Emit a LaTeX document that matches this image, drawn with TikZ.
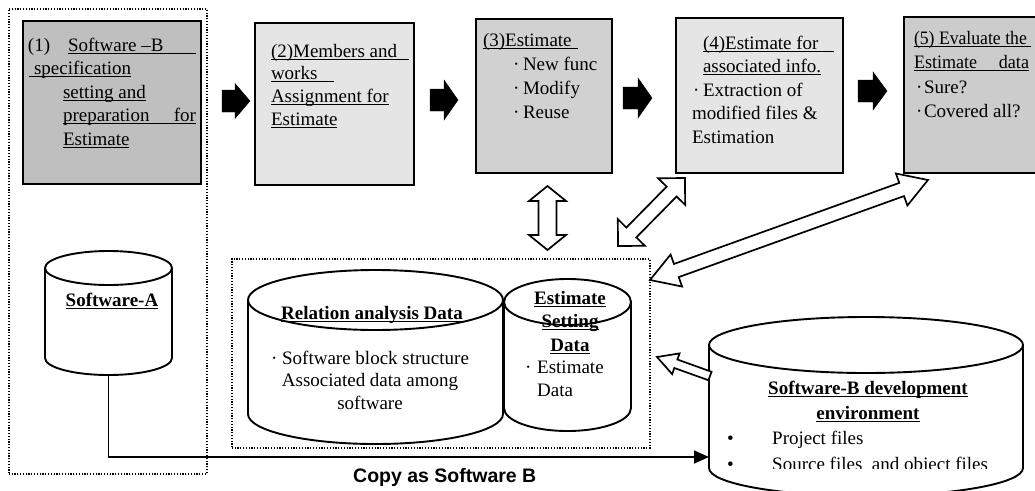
\documentclass[tikz,border=0pt]{standalone}
\usepackage{fontspec}
\setmainfont{Liberation Serif}
\setsansfont{Liberation Sans}
\usetikzlibrary{calc,arrows.meta}

\newcommand\myul[1]{\makebox[0pt][l]{\rule[-2.6pt]{#1pt}{0.9pt}}}
\newcommand\myult[1]{\setbox0=\hbox{#1}\makebox[0pt][l]{\rule[-2.6pt]{\wd0}{0.9pt}}\box0}
\newcommand\putat[2]{\makebox[0pt][l]{\hspace*{#1pt}#2}}

\newcommand\getvec[2]{%
  \path let \p1=(#1), \p2=(#2) in \pgfextra{%
    \pgfmathsetmacro\tmpA{atan2((\y2)-(\y1),(\x2)-(\x1))}%
    \pgfmathsetmacro\tmpL{veclen((\x2)-(\x1),(\y2)-(\y1))}%
    \xdef\vA{\tmpA}\xdef\vL{\tmpL}\xdef\vX{\x1}\xdef\vY{\y1}};}
% single-headed arrow shape: [style]{from}{to}{shaft half width}{head length}{head half width}
\newcommand\sarrow[6][]{%
  \getvec{#2}{#3}%
  \pgfmathsetmacro\vM{\vL-#5}%
  \draw[#1, shift={(\vX,\vY)}, rotate=\vA] (0pt,#4pt) -- (\vM pt,#4pt) -- (\vM pt,#6pt) -- (\vL pt,0pt)
     -- (\vM pt,-#6pt) -- (\vM pt,-#4pt) -- (0pt,-#4pt) -- cycle;}
% double-headed arrow shape
\newcommand\darrow[6][]{%
  \getvec{#2}{#3}%
  \pgfmathsetmacro\vM{\vL-#5}%
  \draw[#1, shift={(\vX,\vY)}, rotate=\vA] (0pt,0pt) -- (#5pt,#6pt) -- (#5pt,#4pt) -- (\vM pt,#4pt) -- (\vM pt,#6pt)
     -- (\vL pt,0pt) -- (\vM pt,-#6pt) -- (\vM pt,-#4pt) -- (#5pt,-#4pt) -- (#5pt,-#6pt) -- cycle;}
% cylinder: name, cx, top-centre y, bottom-centre y, rx, ry
\newcommand\cyl[6]{%
  \node[inner sep=0pt, minimum width={2*#5*1pt}, minimum height={(#4-#3+2*#6)*1pt}, anchor=north] (#1) at (#2,{#3-#6}) {};
  \draw[cylline] (#2,#3) ellipse [x radius=#5pt, y radius=#6pt];
  \draw[cylline] ({#2-#5},#3) -- ({#2-#5},#4) arc[start angle=180, end angle=360, x radius=#5pt, y radius=#6pt] -- ({#2+#5},#3);}

\begin{document}
\begin{tikzpicture}[x=1pt,y=-1pt,
  stepbox/.style={draw, line width=2pt, inner sep=0pt, anchor=north west, font=\fontsize{19}{23.5}\selectfont},
  fat/.style={fill=black, draw=black, line width=0.4pt, line join=miter},
  hollow/.style={fill=white, draw=black, line width=1.7pt, line join=miter},
  dotbox/.style={draw, line width=1.6pt, dash pattern=on 1.2pt off 1.6pt, inner sep=0pt, anchor=north west},
  cylline/.style={line width=1.9pt},
  txt/.style={inner sep=0pt, anchor=base, font=\fontsize{19}{23.5}\selectfont},
]
\useasboundingbox (0,0) rectangle (1035,490);

% dotted groups
\node[dotbox, minimum width=198pt, minimum height=465pt] (grpA) at (8,8) {};
\node[dotbox, minimum width=418pt, minimum height=189pt] (grpB) at (231,258) {};

% step boxes
\node[stepbox, fill=black!25] (b1) at (22,20) {\parbox[c][163pt][t]{178pt}{\rule{0pt}{30pt}\putat{5}{(1)}\putat{45}{\myul{128}Software –B}\\
\putat{6}{\myul{102}}\putat{11}{specification}\\
\putat{40}{\myult{setting and}}\\
\putat{40}{\myul{133}preparation}\putat{173}{\llap{for}}\\
\putat{40}{\myult{Estimate}}}};

\node[stepbox, fill=black!10] (b2) at (254,22) {\parbox[c][162pt][t]{159pt}{\setlength\baselineskip{22.7pt}\rule{0pt}{34pt}\putat{16}{\myul{138}(2)Members and}\\
\putat{16}{\myul{63}works}\\
\putat{16}{\myul{118}Assignment for}\\
\putat{16}{\myult{Estimate}}}};

\node[stepbox, fill=black!18] (b3) at (475,18) {\parbox[c][154pt][t]{136pt}{\setlength\baselineskip{24pt}\rule{0pt}{27pt}\putat{7}{\myul{95}(3)Estimate}\\
\putat{37}{·}\putat{47}{New func}\\
\putat{37}{·}\putat{47}{Modify}\\
\putat{37}{·}\putat{47}{Reuse}}};

\node[stepbox, fill=black!10] (b4) at (675,17) {\parbox[c][155pt][t]{167pt}{\setlength\baselineskip{23.5pt}\rule{0pt}{31pt}\putat{27}{\myul{131}(4)Estimate for}\\
\putat{27}{\myult{associated info.}}\\
\putat{17}{·}\putat{27}{Extraction of}\\
\putat{16}{modified files \&}\\
\putat{16}{Estimation}}};

\node[stepbox, fill=black!20] (b5) at (903,16) {\parbox[c][156pt][t]{140pt}{\setlength\baselineskip{24.5pt}\rule{0pt}{27pt}\putat{10}{\myul{117}\scalebox{0.93}[1]{(5) Evaluate the}}\\
\putat{10}{\myul{115}\scalebox{0.95}[1]{Estimate}}\putat{125}{\llap{\scalebox{0.95}[1]{data}}}\\
\putat{12}{·}\putat{20}{Sure?}\\
\putat{12}{·}\putat{20}{Covered all?}}};

% black flow arrows
\coordinate (f1a) at (222,101); \coordinate (f1b) at (250,101);
\coordinate (f2a) at (430,100); \coordinate (f2b) at (458,100);
\coordinate (f3a) at (623,98);  \coordinate (f3b) at (652,98);
\coordinate (f4a) at (858,91);  \coordinate (f4b) at (887,91);
\sarrow[fat]{f1a}{f1b}{11}{15}{17.5}
\sarrow[fat]{f2a}{f2b}{11}{14}{20}
\sarrow[fat]{f3a}{f3b}{11}{14}{20}
\sarrow[fat]{f4a}{f4b}{11}{14}{19}

% cylinders
\cyl{swa}{108.5}{268}{358}{63.5}{17}
\cyl{rel}{375.5}{300}{414}{127.5}{30}
\cyl{esd}{567.5}{302}{408}{63.5}{23}
\cyl{swb}{866}{345}{468}{157}{28}

% cylinder texts
\node[txt, font=\fontsize{19}{23.5}\selectfont\bfseries] (swat) at (112,306) {\myult{Software-A}};
\node[txt, font=\fontsize{19}{23.5}\selectfont\bfseries] (relt) at (372,319) {\myult{Relation analysis Data}};
\node[txt] (relb) at (370,364) {\parbox[t]{250pt}{\centering\setlength\baselineskip{22.5pt}· Software block structure\\ Associated data among\\ software}};
\node[txt, font=\fontsize{19}{23.5}\selectfont\bfseries] (esdt) at (570,304) {\parbox[t]{120pt}{\centering\myult{Estimate}\\ \myult{Setting}\\ \myult{Data}}};
\node[txt, anchor=base west] (esdb) at (523,373) {\parbox[t]{100pt}{\putat{2}{·}\putat{14}{Estimate}\\ \putat{14}{Data}}};
\node[txt, font=\fontsize{19}{25}\selectfont\bfseries] (swbt) at (868,394) {\parbox[t]{300pt}{\centering\myult{Software-B development}\\ \myult{environment}}};
\begin{scope}
\clip (700,300) rectangle (1035,468);
\node[txt, anchor=base west] (swbb) at (727,444) {\parbox[t]{290pt}{\setlength\baselineskip{26pt}\putat{0}{•}\putat{45}{Project files}\\ \putat{0}{•}\putat{45}{Source files\ \ and object files}}};
\end{scope}

% copy connector
\coordinate (copyend) at (709,457);
\draw[line width=1.6pt, -{Triangle[length=15pt,width=13pt]}] (swa.south) |- (copyend);
\node[inner sep=0pt, anchor=base west, font=\sffamily\bfseries\fontsize{19.5}{23}\selectfont] (copy) at (353,482) {Copy as Software B};

% hollow arrows
\coordinate (va) at (547.5,186); \coordinate (vb) at (547.5,250);
\darrow[hollow]{va}{vb}{9}{15}{18.5}
\coordinate (da) at (618,246); \coordinate (db) at (685,178);
\darrow[hollow]{da}{db}{7}{19}{19}
\coordinate (la) at (650,280); \coordinate (lb) at (928,180);
\darrow[hollow]{la}{lb}{7}{28}{17}
\coordinate (sa) at (710,376); \coordinate (sb) at (657,357);
\sarrow[hollow]{sa}{sb}{4.5}{20}{11}
\end{tikzpicture}
\end{document}
